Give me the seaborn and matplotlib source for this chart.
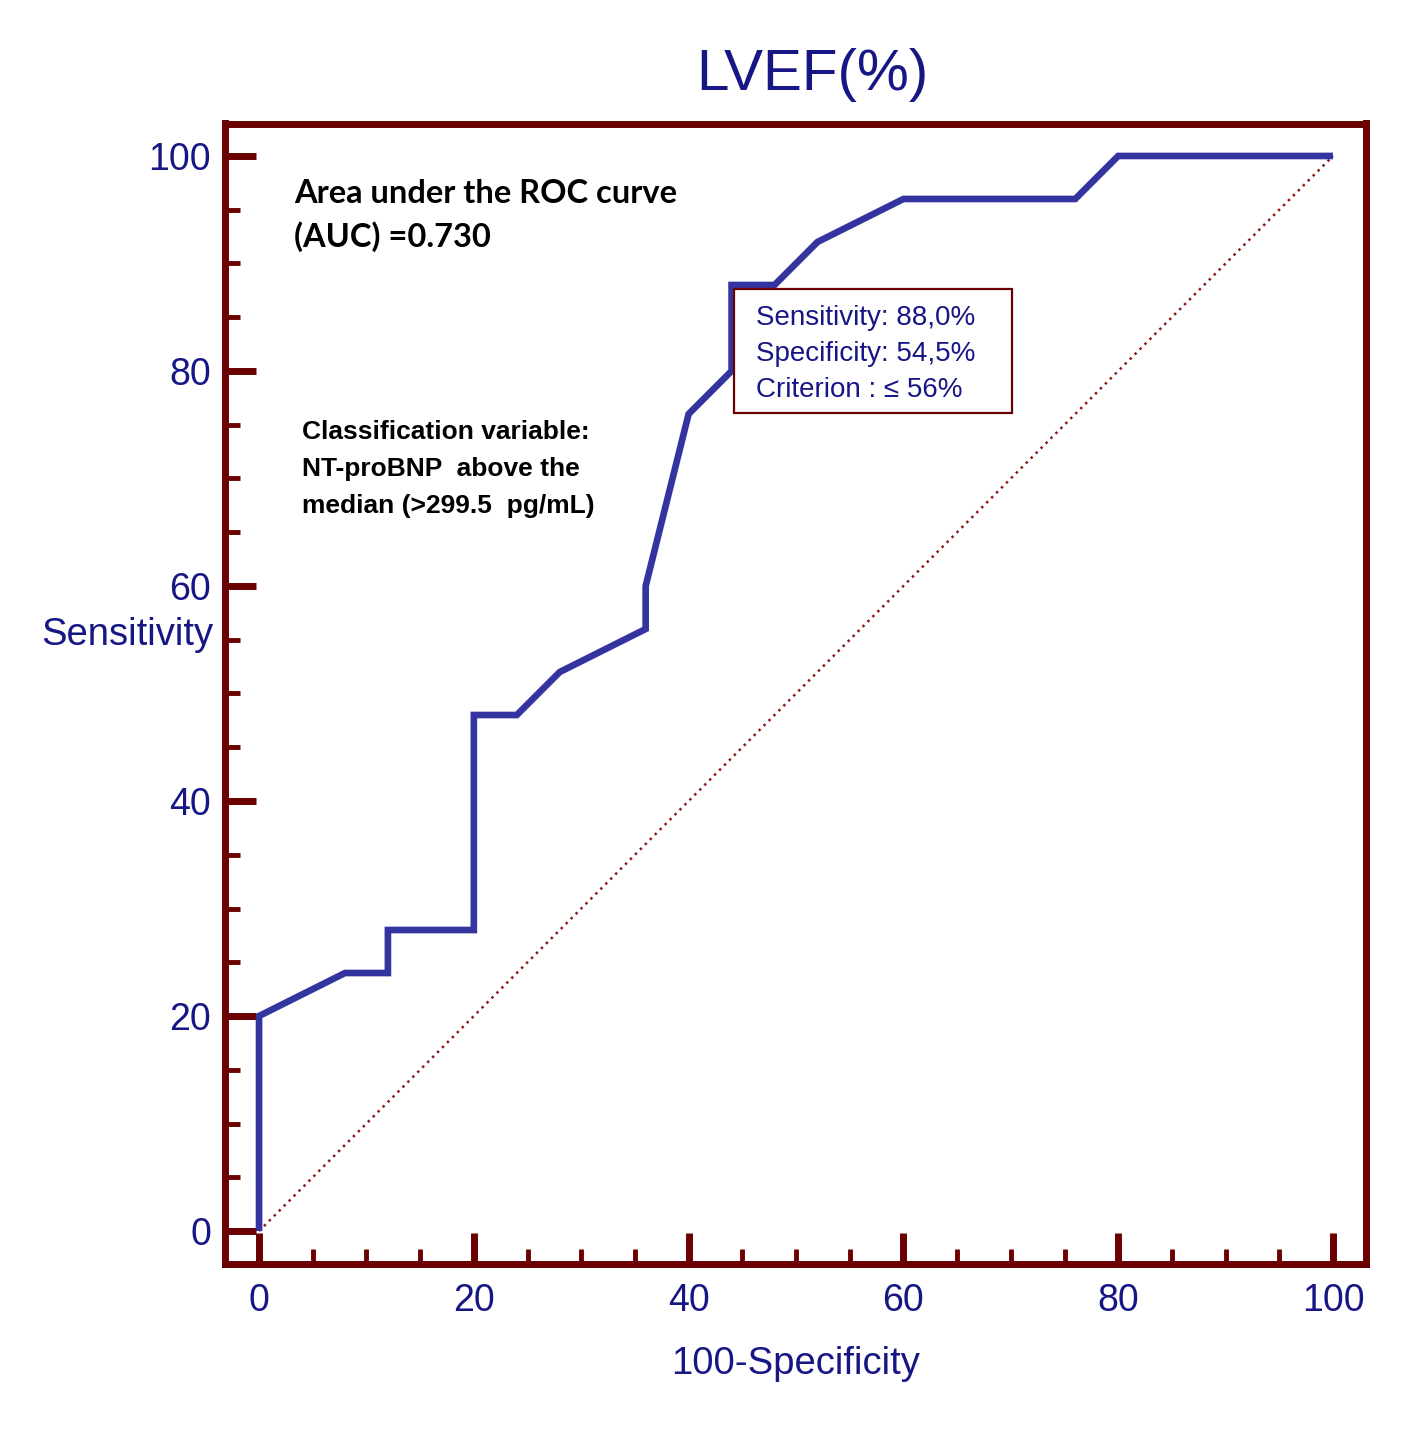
import matplotlib
matplotlib.use("Agg")
import matplotlib.pyplot as plt
import seaborn as sns
import pandas as pd
from matplotlib.patches import Rectangle
from matplotlib.ticker import MultipleLocator

# ---- data ----
fpr = [0, 0, 8, 12, 12, 20, 20, 24, 28, 32, 36, 36, 40, 44, 44, 48, 52, 60, 76, 80, 100]
tpr = [0, 20, 24, 24, 28, 28, 48, 48, 52, 54, 56, 60, 76, 80, 88, 88, 92, 96, 96, 100, 100]
diag_x = [0, 100]
diag_y = [0, 100]
major_ticks = [0, 20, 40, 60, 80, 100]
title = "LVEF(%)"
xlabel = "100-Specificity"
ylabel = "Sensitivity"
auc_lines = ["Area under the ROC curve", "(AUC) =0.730"]
class_lines = ["Classification variable:", "NT-proBNP  above the", "median (>299.5  pg/mL)"]
crit_lines = ["Sensitivity: 88,0%", "Specificity: 54,5%", "Criterion : \u2264 56%"]

MAROON = "#6b0000"
NAVY = "#161685"
CURVE = "#3434a0"

sns.set_style("white")
plt.rcParams["font.family"] = ["Liberation Sans", "DejaVu Sans"]

fig = plt.figure(figsize=(14.17, 14.31), dpi=100)
ax = fig.add_axes([225 / 1417, 1 - 1263.5 / 1431, (1366.5 - 225) / 1417, (1263.5 - 123.5) / 1431])

roc = pd.DataFrame({"fpr": fpr, "tpr": tpr})
diag = pd.DataFrame({"x": diag_x, "y": diag_y})

sns.lineplot(data=diag, x="x", y="y", ax=ax, color="#8b1a1a", lw=1.8,
             linestyle=(0, (1, 1.8)), sort=False, estimator=None, zorder=2)
sns.lineplot(data=roc, x="fpr", y="tpr", ax=ax, color=CURVE, lw=4.8,
             sort=False, estimator=None, zorder=3,
             solid_joinstyle="miter", solid_capstyle="butt")

ax.set_xlim(-3.17, 103.12)
ax.set_ylim(-3.02, 103.02)
ax.set_xticks(major_ticks)
ax.set_yticks(major_ticks)
ax.xaxis.set_minor_locator(MultipleLocator(5))
ax.yaxis.set_minor_locator(MultipleLocator(5))

for s in ax.spines.values():
    s.set_visible(True)
    s.set_color(MAROON)
    s.set_linewidth(5)

ax.tick_params(which="major", direction="in", length=22, width=5, color=MAROON,
               labelsize=27, labelcolor=NAVY, pad=10)
ax.tick_params(which="minor", direction="in", length=11, width=3.5, color=MAROON)
ax.tick_params(axis="x", which="both", top=False, bottom=True)
ax.tick_params(axis="y", which="both", right=False, left=True)
ax.tick_params(axis="x", which="major", pad=14)

ax.set_xlabel(xlabel, fontsize=27.5, color=NAVY, va="baseline")
ax.xaxis.set_label_coords(0.5, -0.097)
ax.set_ylabel(ylabel, fontsize=27.5, color=NAVY, rotation=0, ha="right", va="baseline")
ax.yaxis.set_label_coords(-0.0105, 0.5425)

fig.text(812 / 1417, 1 - 90 / 1431, title, ha="center", va="baseline",
         fontsize=42, color=NAVY)

# AUC text
for txt, yb in zip(auc_lines, [95.66, 91.57]):
    ax.text(3.26, yb, txt, ha="left", va="baseline", fontsize=23.5, fontweight="bold",
            color="black", family=["Lato", "DejaVu Sans"])

# classification text
for txt, yb in zip(class_lines, [73.7, 70.23, 66.8]):
    ax.text(3.98, yb, txt, ha="left", va="baseline", fontsize=19, fontweight="bold",
            color="black")

# criterion box
ax.add_patch(Rectangle((44.2, 76.1), 70.1 - 44.2, 87.6 - 76.1, facecolor="white",
                       edgecolor=MAROON, lw=1.6, zorder=4))
for txt, yb in zip(crit_lines, [84.3, 80.9, 77.6]):
    ax.text(46.3, yb, txt, ha="left", va="baseline", fontsize=20, color=NAVY, zorder=5)

fig.savefig("out.png", dpi=100, facecolor="white")
